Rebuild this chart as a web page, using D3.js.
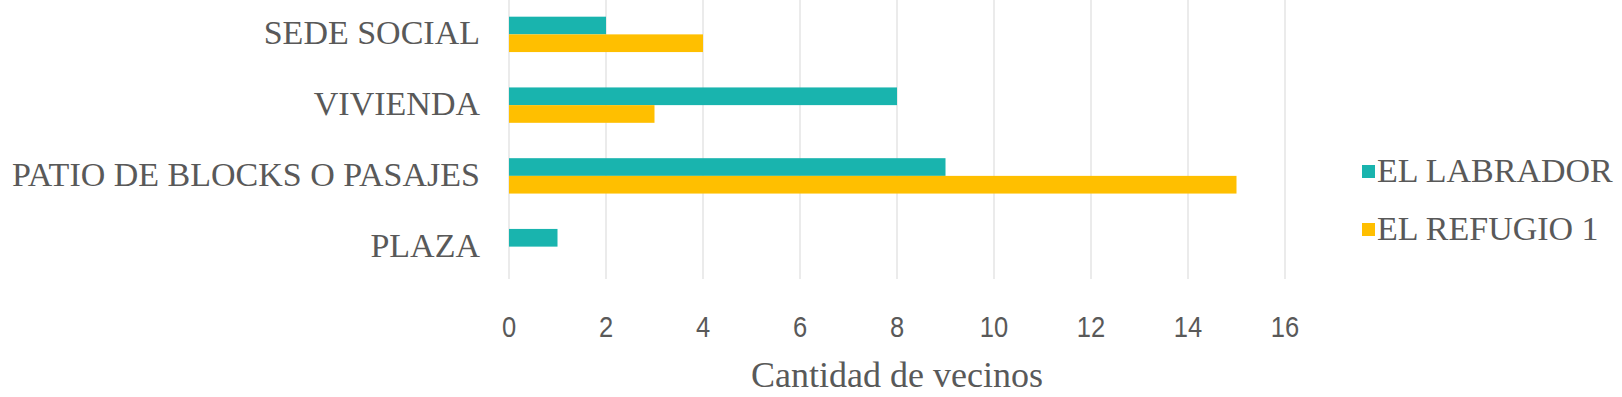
<!DOCTYPE html>
<html>
<head>
<meta charset="utf-8">
<script src="https://cdn.jsdelivr.net/npm/d3@7"></script>
<style>
  body { margin: 0; background: #fff; }
  text { fill: #595959; }
</style>
</head>
<body>
<script>
var categories = ["SEDE SOCIAL", "VIVIENDA", "PATIO DE BLOCKS O PASAJES", "PLAZA"];
var seriesNames = ["EL LABRADOR", "EL REFUGIO 1"];
var labrador = [2, 8, 9, 1];
var refugio = [4, 3, 15, 0];
var xTicks = [0, 2, 4, 6, 8, 10, 12, 14, 16];
var colors = ["#19b4ae", "#ffbf00"];

var width = 1622, height = 397;

var svg = d3.select("body").append("svg")
  .attr("width", width).attr("height", height);

var x = d3.scaleLinear().domain([0, 16]).range([509, 1285]);

var y = d3.scaleBand()
  .domain(categories)
  .range([-1, 282])
  .paddingInner(0.5)
  .paddingOuter(0.25);

var ySub = d3.scaleBand()
  .domain(seriesNames)
  .range([0, y.bandwidth()]);

// gridlines
svg.append("g").selectAll("line")
  .data(xTicks)
  .enter().append("line")
  .attr("x1", function (d) { return x(d); })
  .attr("x2", function (d) { return x(d); })
  .attr("y1", 0)
  .attr("y2", 279)
  .attr("stroke", "#dedede")
  .attr("stroke-width", 1.2);

// bars
var rows = categories.map(function (c, i) {
  return {cat: c, values: [labrador[i], refugio[i]]};
});

var groups = svg.append("g").selectAll("g")
  .data(rows)
  .enter().append("g")
  .attr("transform", function (d) { return "translate(0," + y(d.cat) + ")"; });

groups.selectAll("rect")
  .data(function (d) {
    return d.values.map(function (v, j) { return {name: seriesNames[j], value: v, j: j}; });
  })
  .enter().append("rect")
  .attr("x", x(0))
  .attr("y", function (d) { return ySub(d.name); })
  .attr("width", function (d) { return x(d.value) - x(0); })
  .attr("height", ySub.bandwidth())
  .attr("fill", function (d) { return colors[d.j]; });

// category labels
svg.append("g").selectAll("text")
  .data(categories)
  .enter().append("text")
  .attr("x", 480)
  .attr("y", function (d) { return y(d) + y.bandwidth() / 2 + 10; })
  .attr("text-anchor", "end")
  .style("font-family", "'Liberation Serif', 'DejaVu Serif', serif")
  .style("font-size", "34px")
  .text(function (d) { return d; });

// x tick labels (narrow digits like the original)
svg.append("g").selectAll("text")
  .data(xTicks)
  .enter().append("text")
  .attr("transform", function (d) { return "translate(" + x(d) + ",337) scale(0.88,1)"; })
  .attr("text-anchor", "middle")
  .style("font-family", "'Liberation Sans', Arial, sans-serif")
  .style("font-size", "29px")
  .text(function (d) { return d; });

// axis title
svg.append("text")
  .attr("x", (x(0) + x(16)) / 2)
  .attr("y", 387)
  .attr("text-anchor", "middle")
  .style("font-family", "'Liberation Serif', 'DejaVu Serif', serif")
  .style("font-size", "36px")
  .text("Cantidad de vecinos");

// legend
var legend = svg.append("g").selectAll("g")
  .data(seriesNames)
  .enter().append("g")
  .attr("transform", function (d, i) { return "translate(1362," + (171 + i * 58) + ")"; });

legend.append("rect")
  .attr("x", 0)
  .attr("y", -6)
  .attr("width", 13)
  .attr("height", 13)
  .attr("fill", function (d, i) { return colors[i]; });

legend.append("text")
  .attr("x", 15)
  .attr("y", 11)
  .style("font-family", "'Liberation Serif', 'DejaVu Serif', serif")
  .style("font-size", "34px")
  .text(function (d) { return d; });
</script>
</body>
</html>
